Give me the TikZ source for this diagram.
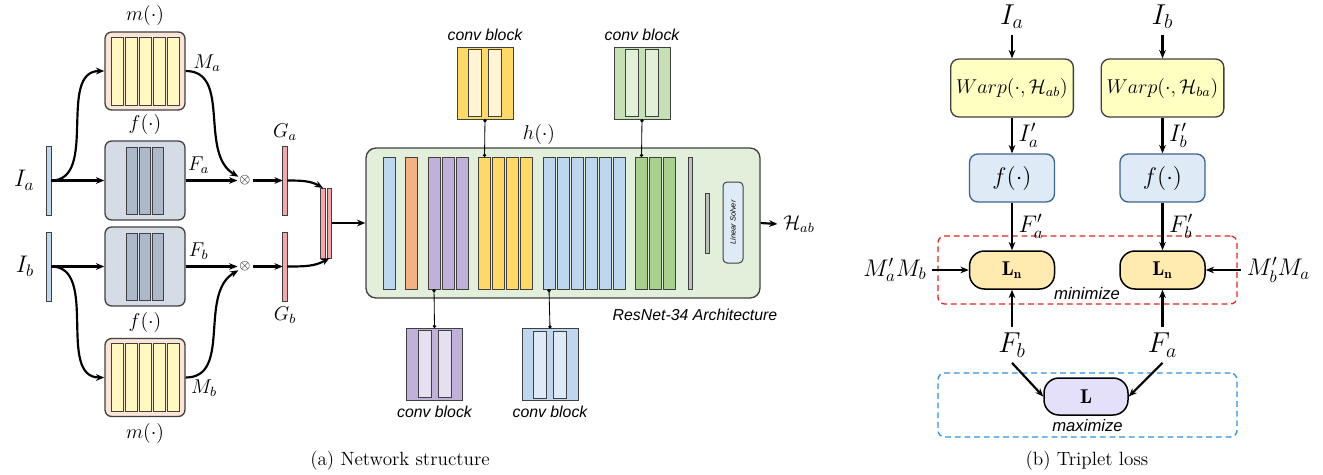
\documentclass[tikz,border=0pt]{standalone}
\usepackage{amsmath, amssymb}
\usepackage{fontspec}
\usepackage{tikz}
\usetikzlibrary{positioning,arrows.meta}
\newfontfamily\helv{Liberation Sans}
\definecolor{lblue}{HTML}{BDD7EE}
\definecolor{vlblue}{HTML}{DEEBF7}
\definecolor{peach}{HTML}{FBE5D6}
\definecolor{pyellow}{HTML}{FFF8C0}
\definecolor{slate}{HTML}{D6DCE5}
\definecolor{slatebar}{HTML}{ADB9CA}
\definecolor{gpink}{HTML}{F4A6A8}
\definecolor{lgreen}{HTML}{E2EFDA}
\definecolor{orng}{HTML}{F4B183}
\definecolor{purp}{HTML}{BFB1D9}
\definecolor{lpurp}{HTML}{E5DFF0}
\definecolor{gold}{HTML}{FFD966}
\definecolor{lgold}{HTML}{FFF5D6}
\definecolor{grn}{HTML}{A9D18E}
\definecolor{mgrn}{HTML}{C5E0B4}
\definecolor{palegrn}{HTML}{E2F0D9}
\definecolor{gry}{HTML}{BFBFBF}
\definecolor{warpy}{HTML}{FFFFC2}
\definecolor{fedge}{HTML}{3F6390}
\definecolor{lnfill}{HTML}{FFEAB0}
\definecolor{lfill}{HTML}{E4E0FA}
\definecolor{dred}{HTML}{E02424}
\definecolor{dblue}{HTML}{2E90E0}
\tikzset{cell/.style={draw=black!75, line width=0.5pt, inner sep=0pt, outer sep=0pt},
	 inbar/.style={cell, fill=lblue, minimum width=2.7pt, minimum height=41.4pt},
	 gbar/.style={cell, fill=gpink, minimum width=2.7pt, minimum height=41.4pt},
	 mnet/.style={draw=black!75, line width=0.8pt, fill=peach, rounded corners=4pt, minimum width=48pt, minimum height=46.8pt},
	 mbar/.style={cell, fill=pyellow, minimum width=7.2pt, minimum height=40.8pt},
	 fnet/.style={draw=black!75, line width=0.8pt, fill=slate, rounded corners=4pt, minimum width=48pt, minimum height=47.4pt},
	 fbar/.style={cell, fill=slatebar, minimum width=6.6pt, minimum height=40.2pt},
	 hblock/.style={draw=black!75, line width=0.8pt, fill=lgreen, rounded corners=6pt, minimum width=236.4pt, minimum height=90pt},
	 hbar/.style={cell, minimum width=7.2pt, minimum height=79.2pt},
	 cblock/.style={cell, minimum width=33.6pt, minimum height=43.2pt},
	 cbar/.style={cell, minimum width=7.8pt, minimum height=40.2pt},
	 sans/.style={font=\helv\itshape\fontsize{9.5}{11}\selectfont},
	 arr/.style={-{Stealth[length=5pt,width=4pt]}, line width=1.3pt},
	 link/.style={{Circle[length=2pt]}-{Circle[length=2pt]}, line width=0.5pt},
	 warp/.style={draw=black!75, line width=0.8pt, fill=warpy, rounded corners=5pt, minimum width=72pt, minimum height=34.8pt, font=\large},
	 tf/.style={draw=fedge, line width=0.8pt, fill=vlblue, rounded corners=5pt, minimum width=51pt, minimum height=28.8pt, font=\Large},
	 loss/.style={draw=black, line width=0.9pt, rounded corners=9pt, minimum width=51pt, minimum height=22.8pt},
	 lossframe/.style={line width=0.8pt, dash pattern=on 3.5pt off 2.3pt, rounded corners=4pt, minimum width=179.4pt}
	 }
\begin{document}
\begin{tikzpicture}[x=0.6pt, y=-0.6pt, node distance=1.2pt] % (a) network, (b) triplet loss
	\useasboundingbox (0,0) rectangle (1323,474);
	\node[inbar] (ia) at (49,180.5) [label={[label distance=4pt]left:{\Large$I_a$}}] {};
	\node[inbar] (ib) at (49,266.5) [label={[label distance=4pt]left:{\Large$I_b$}}] {};
	\node[mnet] (ma) at (145,71) [label=above:{\large$m(\cdot)$}] {};
	\node[mbar] (ma1) at (117,71) {}; \node[mbar] (ma2) [right=of ma1] {}; \node[mbar] (ma3) [right=of ma2] {};
	\node[mbar] (ma4) [right=of ma3] {}; \node[mbar] (ma5) [right=of ma4] {};
	\node[fnet] (fa) at (145,180.5) [label=above:{\large$f(\cdot)$}] {};
	\node[fbar] (fa1) at (132,180.5) {}; \node[fbar] (fa2) [right=of fa1] {}; \node[fbar] (fa3) [right=of fa2] {};
	\node[fnet] (fb) at (145,266.5) [label=below:{\large$f(\cdot)$}] {};
	\node[fbar] (fb1) at (132,266.5) {}; \node[fbar] (fb2) [right=of fb1] {}; \node[fbar] (fb3) [right=of fb2] {};
	\node[mnet] (mb) at (145,377.5) [label=below:{\large$m(\cdot)$}] {};
	\node[mbar] (mb1) at (117,377.5) {}; \node[mbar] (mb2) [right=of mb1] {}; \node[mbar] (mb3) [right=of mb2] {};
	\node[mbar] (mb4) [right=of mb3] {}; \node[mbar] (mb5) [right=of mb4] {};
	\node (mla) at (207,63) {\large$M_a$};
	\node (mlb) at (204,388) {\large$M_b$};
	\node[circle, inner sep=0pt, font=\footnotesize] (oa) at (245,180.5) {$\otimes$};
	\node[circle, inner sep=0pt, font=\footnotesize] (ob) at (245,266.5) {$\otimes$};
	\node[gbar] (ga) at (285,180.5) [label=above:{\large$G_a$}] {};
	\node[gbar] (gb) at (285,266.5) [label=below:{\large$G_b$}] {};
	\node[gbar, minimum height=42pt] (ca) at (323,223) {};
	\node[gbar, minimum height=42pt] (cb) at (329.5,223) {};
	\draw[arr] (ia.east) to[out=0,in=180] (ma.west);
	\draw[arr] (ia.east) -- (fa.west);
	\draw[arr] (ib.east) -- (fb.west);
	\draw[arr] (ib.east) to[out=0,in=180] (mb.west);
	\draw[arr] (fa.east) -- node[above, pos=0.25] {\large$F_a$} (oa);
	\draw[arr] (fb.east) -- node[above, pos=0.25] {\large$F_b$} (ob);
	\draw[arr] (ma.east) to[out=0,in=150] (oa);
	\draw[arr] (mb.east) to[out=0,in=210] (ob);
	\draw[arr] (oa) -- (ga.west);
	\draw[arr] (ob) -- (gb.west);
	\draw[arr] (ga.east) to[out=0,in=150] (ca.north);
	\draw[arr] (gb.east) to[out=0,in=210] (cb.south);
	\node[hblock] (hnet) at (563,223) {};
	\node (hl) at (539,134) {\large$h(\cdot)$};
	\draw[arr] (cb.east) -- (hnet.west);
	\node[hbar, fill=lblue] (h1) at (389,223) {};
	\node[hbar, fill=orng] (h2) [right=6.3pt of h1] {};
	\node[hbar, fill=purp] (h3) [right=6.3pt of h2] {}; \node[hbar, fill=purp] (h4) [right=of h3] {}; \node[hbar, fill=purp] (h5) [right=of h4] {};
	\node[hbar, fill=gold] (h6) [right=6.3pt of h5] {}; \node[hbar, fill=gold] (h7) [right=of h6] {};
	\node[hbar, fill=gold] (h8) [right=of h7] {}; \node[hbar, fill=gold] (h9) [right=of h8] {};
	\node[hbar, fill=lblue] (h10) [right=6.3pt of h9] {}; \node[hbar, fill=lblue] (h11) [right=of h10] {}; \node[hbar, fill=lblue] (h12) [right=of h11] {};
	\node[hbar, fill=lblue] (h13) [right=of h12] {}; \node[hbar, fill=lblue] (h14) [right=of h13] {}; \node[hbar, fill=lblue] (h15) [right=of h14] {};
	\node[hbar, fill=grn] (h16) [right=6.3pt of h15] {}; \node[hbar, fill=grn] (h17) [right=of h16] {}; \node[hbar, fill=grn] (h18) [right=of h17] {};
	\node[hbar, fill=gry, minimum width=2.4pt] (h19) [right=7.5pt of h18] {};
	\node[hbar, fill=gry, minimum width=2.7pt, minimum height=36pt] (h20) [right=7.8pt of h19] {};
	\node[cell, fill=vlblue, line width=0.6pt, rounded corners=2.5pt, minimum width=48.6pt, minimum height=12pt, rotate=90,
	      font=\helv\itshape\fontsize{4.5}{5}\selectfont] (ls) at (733,222.5) {Linear Solver};
	\node[sans] (arch) at (695,315) {ResNet-34 Architecture};
	\node (hab) at (799,224) {\large$\mathcal{H}_{ab}$};
	\draw[arr] (hnet.east) -- (hab.west);
	\node[cblock, fill=gold] (cyel) at (485,83) [label={[sans]above:conv block}] {};
	\node[cbar, fill=lgold] (cyel1) at (475,83) {}; \node[cbar, fill=lgold] (cyel2) [right=4.2pt of cyel1] {};
	\node[cblock, fill=mgrn] (cgrn) at (642,83) [label={[sans]above:conv block}] {};
	\node[cbar, fill=palegrn] (cgrn1) at (632,83) {}; \node[cbar, fill=palegrn] (cgrn2) [right=4.2pt of cgrn1] {};
	\node[cblock, fill=purp] (cpur) at (434.5,364) [label={[sans]below:conv block}] {};
	\node[cbar, fill=lpurp] (cpur1) at (424.5,364) {}; \node[cbar, fill=lpurp] (cpur2) [right=4.2pt of cpur1] {};
	\node[cblock, fill=lblue] (cblu) at (550,364.5) [label={[sans]below:conv block}] {};
	\node[cbar, fill=vlblue] (cblu1) at (540,364.5) {}; \node[cbar, fill=vlblue] (cblu2) [right=4.2pt of cblu1] {};
	\draw[link] (cyel.south) -- (h6.north);
	\draw[link] (cgrn.south) -- (h16.north);
	\draw[link] (h3.south) -- (cpur.north);
	\draw[link] (h10.south) -- (cblu.north);
	\node[font=\fontsize{11.5}{13}\selectfont] (capa) at (400,461) {(a) Network structure};
	% triplet loss
	\node[lossframe, draw=dred, minimum height=40.8pt] (minf) at (1087.5,270) {};
	\node[lossframe, draw=dblue, minimum height=38.4pt] (maxf) at (1087.5,405) {};
	\node[sans, font=\helv\itshape\fontsize{10}{12}\selectfont] (minl) at (1087,294) {minimize};
	\node[sans, font=\helv\itshape\fontsize{10}{12}\selectfont] (maxl) at (1087.5,426) {maximize};
	\node (tia) at (1012,17) {\LARGE$I_a$};
	\node (tib) at (1162.5,17) {\LARGE$I_b$};
	\node[warp] (wa) at (1012,88) {$Warp(\cdot,\mathcal{H}_{ab})$};
	\node[warp] (wb) at (1162.5,88) {$Warp(\cdot,\mathcal{H}_{ba})$};
	\node[tf] (tfa) at (1012,178) {$f(\cdot)$};
	\node[tf] (tfb) at (1162.5,178) {$f(\cdot)$};
	\node[loss, fill=lnfill] (lna) at (1012,270) {\large$\mathbf{L_n}$};
	\node[loss, fill=lnfill] (lnb) at (1162.5,270) {\large$\mathbf{L_n}$};
	\node[loss, fill=lfill, minimum width=50.4pt, minimum height=22.2pt] (tl) at (1086,396.5) {\large$\mathbf{L}$};
	\node (mab) at (895,270) {\Large$M'_aM_b$};
	\node (mba) at (1278.5,270) {\Large$M'_bM_a$};
	\node (fbl) at (1012,345) {\LARGE$F_b$};
	\node (fal) at (1162.5,345) {\LARGE$F_a$};
	\draw[arr] (tia) -- (wa);
	\draw[arr] (tib) -- (wb);
	\draw[arr] (wa) -- node[right] {\Large$I'_a$} (tfa);
	\draw[arr] (wb) -- node[right] {\Large$I'_b$} (tfb);
	\draw[arr] (tfa) -- node[right] {\Large$F'_a$} (lna);
	\draw[arr] (tfb) -- node[right] {\Large$F'_b$} (lnb);
	\draw[arr] (mab) -- (lna);
	\draw[arr] (mba) -- (lnb);
	\draw[arr] (fbl) -- (lna);
	\draw[arr] (fal) -- (lnb);
	\draw[arr] (fbl.south) -- (tl.west);
	\draw[arr] (fal.south) -- (tl.east);
	\node[font=\fontsize{11.5}{13}\selectfont] (capb) at (1087,461) {(b) Triplet loss};
\end{tikzpicture}
\end{document}
